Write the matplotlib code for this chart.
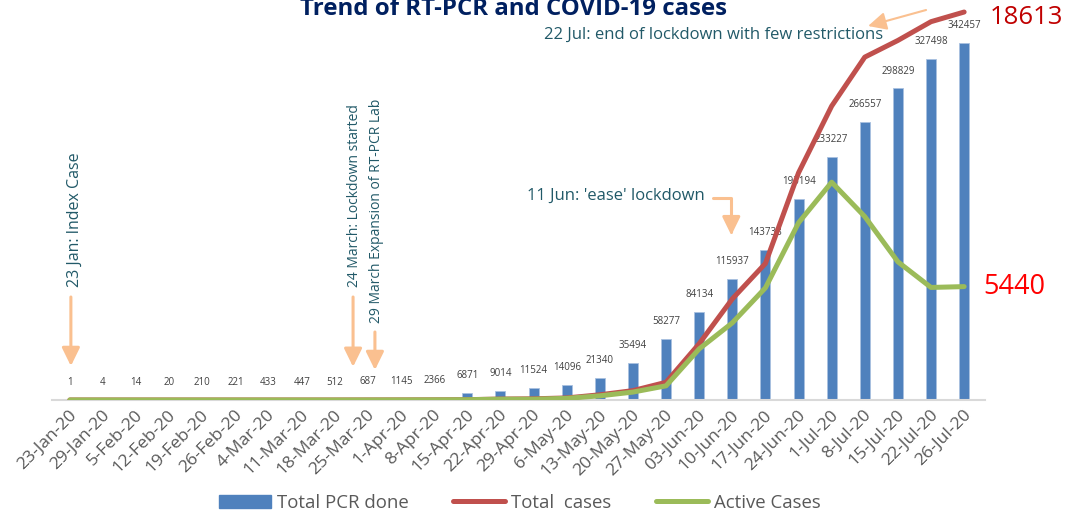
import matplotlib
matplotlib.use('Agg')
import matplotlib.pyplot as plt
from matplotlib.patches import Patch
from matplotlib.lines import Line2D
from matplotlib.transforms import ScaledTranslation

dates = ['23-Jan-20', '29-Jan-20', '5-Feb-20', '12-Feb-20', '19-Feb-20', '26-Feb-20',
         '4-Mar-20', '11-Mar-20', '18-Mar-20', '25-Mar-20', '1-Apr-20', '8-Apr-20',
         '15-Apr-20', '22-Apr-20', '29-Apr-20', '6-May-20', '13-May-20', '20-May-20',
         '27-May-20', '03-Jun-20', '10-Jun-20', '17-Jun-20', '24-Jun-20', '1-Jul-20',
         '8-Jul-20', '15-Jul-20', '22-Jul-20', '26-Jul-20']
pcr_done = [1, 4, 14, 20, 210, 221, 433, 447, 512, 687, 1145, 2366, 6871, 9014,
            11524, 14096, 21340, 35494, 58277, 84134, 115937, 143738, 193194,
            233227, 266557, 298829, 327498, 342457]
total_cases = [1, 1, 1, 1, 1, 1, 1, 1, 1, 3, 5, 9, 16, 45, 57, 99, 250, 450, 850,
               2700, 4850, 6550, 10900, 14100, 16450, 17250, 18150, 18613]
active_cases = [1, 1, 0, 0, 0, 0, 0, 0, 0, 2, 4, 8, 15, 40, 40, 80, 200, 380, 680,
                2450, 3700, 5380, 8500, 10450, 8800, 6630, 5400, 5440]

plt.rcParams['font.family'] = ['Open Sans', 'DejaVu Sans']

BLUE = '#4F81BD'
RED = '#C0504D'
GREEN = '#9BBB59'
ORANGE = '#FAC090'
TEAL = '#215968'
GREY = '#595959'

fig = plt.figure(figsize=(10.76, 5.11), dpi=100)
ax = fig.add_axes([52 / 1076, 111 / 511, 933 / 1076, 400 / 511])
x = list(range(len(dates)))

ax.bar(x, pcr_done, width=0.3, color=BLUE, edgecolor='#A9C1E0', linewidth=0.6)
for i, v in zip(x, pcr_done):
    ax.annotate(str(v), (i, v), xytext=(0, 12.5), textcoords='offset points',
                ha='center', va='center', fontsize=7, color='#404040')

ax.set_xlim(-0.54, 27.63)
ax.set_ylim(0, 383700)
ax.set_yticks([])
ax.set_xticks(x)
ax.set_xticklabels(dates, rotation=45, ha='right', va='center',
                   rotation_mode='anchor', fontsize=12.6, color=GREY)
ax.tick_params(axis='x', length=0, pad=9)
shift = ScaledTranslation(3 / 72, 0, fig.dpi_scale_trans)
for lbl in ax.get_xticklabels():
    lbl.set_transform(lbl.get_transform() + shift)
for s in ['top', 'left', 'right']:
    ax.spines[s].set_visible(False)
ax.spines['bottom'].set_color('#D9D9D9')
ax.spines['bottom'].set_linewidth(1.5)

ax2 = ax.twinx()
ax2.plot(x, total_cases, color=RED, lw=3.6, solid_capstyle='round', solid_joinstyle='round')
ax2.plot(x, active_cases, color=GREEN, lw=3.6, solid_capstyle='round', solid_joinstyle='round')
ax2.set_ylim(0, 19190)
ax2.set_yticks([])
for s in ax2.spines.values():
    s.set_visible(False)

ax2.annotate(str(total_cases[-1]), (x[-1], total_cases[-1]), xytext=(18.5, -4.3),
             textcoords='offset points', ha='left', va='center', fontsize=18.5, color='#C00000')
ax2.annotate(str(active_cases[-1]), (x[-1], active_cases[-1]), xytext=(13.5, 0),
             textcoords='offset points', ha='left', va='center', fontsize=19.5, color='#FF0000')

# event annotations (x in category units, y in axes fraction)
tr = ax.get_xaxis_transform()
arrow = dict(arrowstyle='-|>,head_width=0.27,head_length=0.55', color=ORANGE,
             lw=2.2, mutation_scale=20, shrinkA=0, shrinkB=0)
ax.text(0.15, 0.2825, '23 Jan: Index Case', rotation=90, ha='center', va='bottom',
        fontsize=11.5, color=TEAL, transform=tr)
ax.annotate('', xy=(0.03, 0.085), xytext=(0.03, 0.2575), xycoords=tr, textcoords=tr,
            arrowprops=arrow)
ax.text(8.58, 0.2825, '24 March: Lockdown started', rotation=90, ha='center', va='bottom',
        fontsize=10, color=TEAL, transform=tr)
ax.annotate('', xy=(8.55, 0.083), xytext=(8.55, 0.2575), xycoords=tr, textcoords=tr,
            arrowprops=arrow)
ax.text(9.27, 0.1925, '29 March Expansion of RT-PCR Lab', rotation=90, ha='center',
        va='bottom', fontsize=10, color=TEAL, transform=tr)
ax.annotate('', xy=(9.21, 0.075), xytext=(9.21, 0.17), xycoords=tr, textcoords=tr,
            arrowprops=arrow)

ax.text(19.18, 0.51, "11 Jun: 'ease' lockdown", ha='right', va='center',
        fontsize=12, color=TEAL, transform=tr)
ax.annotate('', xy=(19.97, 0.412), xytext=(19.43, 0.505), xycoords=tr, textcoords=tr,
            arrowprops=dict(arrow, connectionstyle='angle,angleA=0,angleB=90,rad=0'))

ax.text(24.56, 0.9125, '22 Jul: end of lockdown with few restrictions', ha='right',
        va='center', fontsize=12, color=TEAL, transform=tr)
ax.annotate('', xy=(24.1, 0.935), xytext=(25.85, 0.975), xycoords=tr, textcoords=tr,
            arrowprops=dict(arrow, lw=1.5))

# title sits partly above the top edge, as in the source image
fig.text(513 / 1076, (511 - 15) / 511, 'Trend of RT-PCR and COVID-19 cases',
         ha='center', va='baseline', fontsize=17.3, fontweight='bold', color='#002060')

handles = [Patch(facecolor=BLUE, edgecolor=BLUE),
           Line2D([], [], color=RED, lw=3.6, solid_capstyle='round'),
           Line2D([], [], color=GREEN, lw=3.6, solid_capstyle='round')]
fig.legend(handles, ['Total PCR done', 'Total  cases', 'Active Cases'],
           loc='center', bbox_to_anchor=(520 / 1076, 1 - 503 / 511), ncol=3,
           frameon=False, fontsize=13.4, handlelength=2.8, handletextpad=0.32,
           columnspacing=2.4, labelcolor=GREY, borderpad=0)

fig.savefig('out.png', dpi=100)
